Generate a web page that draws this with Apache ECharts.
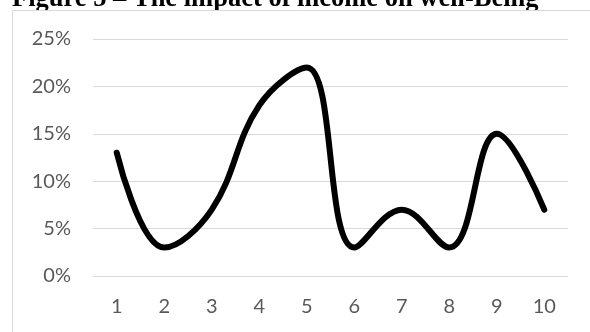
<!DOCTYPE html>
<html>
<head>
<meta charset="utf-8">
<script src="https://cdn.jsdelivr.net/npm/echarts@6/dist/echarts.min.js"></script>
<style>
  html, body { margin: 0; padding: 0; background: #ffffff; }
  #chart { width: 590px; height: 332px; }
</style>
</head>
<body>
<div id="chart"></div>
<script>
const titleText = 'Figure 5 – The impact of income on well-Being';
const categories = ['1', '2', '3', '4', '5', '6', '7', '8', '9', '10'];
const values = [0.13, 0.03, 0.07, 0.18, 0.22, 0.03, 0.07, 0.03, 0.15, 0.07];
const yTicks = [0, 0.05, 0.10, 0.15, 0.20, 0.25];

const chart = echarts.init(document.getElementById('chart'), null, { renderer: 'canvas' });
chart.setOption({
  animation: false,
  backgroundColor: '#ffffff',
  graphic: [
    {
      type: 'text', z: -20, left: 12, top: -14,
      style: { text: titleText, fill: '#000000', font: 'bold 26.5px "Liberation Serif", "Times New Roman", serif' }
    },
    {
      type: 'rect', z: -10,
      shape: { x: 12.5, y: 10.5, width: 600, height: 340 },
      style: { fill: '#ffffff', stroke: '#d9d9d9', lineWidth: 1 }
    }
  ],
  grid: { left: 93, right: 22, top: 39, bottom: 56, containLabel: false },
  xAxis: {
    type: 'category',
    data: categories,
    boundaryGap: true,
    axisLine: { show: false },
    axisTick: { show: false },
    axisLabel: { color: '#595959', fontFamily: 'Lato', fontSize: 20, margin: 21 }
  },
  yAxis: {
    type: 'value',
    min: yTicks[0],
    max: yTicks[yTicks.length - 1],
    interval: 0.05,
    axisLine: { show: false },
    axisTick: { show: false },
    splitLine: { lineStyle: { color: '#d9d9d9', width: 1 } },
    axisLabel: {
      color: '#595959', fontFamily: 'Lato', fontSize: 20, margin: 22,
      formatter: v => Math.round(v * 100) + '%'
    }
  },
  series: [{
    type: 'line',
    data: values,
    smooth: 0.4,
    symbol: 'none',
    lineStyle: { color: '#000000', width: 6, cap: 'round', join: 'round' }
  }]
});
</script>
</body>
</html>
